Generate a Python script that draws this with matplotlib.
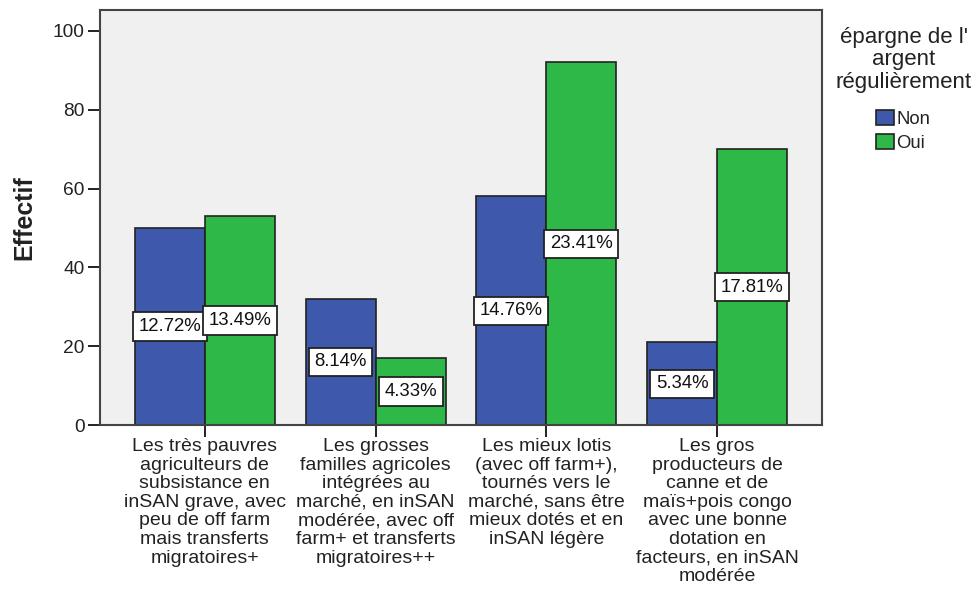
import matplotlib
matplotlib.use("Agg")
import matplotlib.pyplot as plt
from matplotlib.patches import Patch
import numpy as np

plt.rcParams['font.family'] = ['Liberation Sans', 'DejaVu Sans']

categories = [
    "Les très pauvres\nagriculteurs de\nsubsistance en\ninSAN grave, avec\npeu de off farm\nmais transferts\nmigratoires+",
    "Les grosses\nfamilles agricoles\nintégrées au\nmarché, en inSAN\nmodérée, avec off\nfarm+ et transferts\nmigratoires++",
    "Les mieux lotis\n(avec off farm+),\ntournés vers le\nmarché, sans être\nmieux dotés et en\ninSAN légère",
    "Les gros\nproducteurs de\ncanne et de\nmaïs+pois congo\navec une bonne\ndotation en\nfacteurs, en inSAN\nmodérée",
]
non_counts = [50, 32, 58, 21]
oui_counts = [53, 17, 92, 70]
non_pct = ["12.72%", "8.14%", "14.76%", "5.34%"]
oui_pct = ["13.49%", "4.33%", "23.41%", "17.81%"]
series_names = ["Non", "Oui"]
legend_title = "épargne de l'\nargent\nrégulièrement"

colors = ["#3e58ac", "#2eb848"]
ink = "#222222"

fig = plt.figure(figsize=(9.79, 5.94), dpi=100)
ax = fig.add_axes([100 / 979, 1 - 425 / 594, 722 / 979, 415 / 594])
ax.set_facecolor("#f0f0f0")

x = np.arange(len(categories))
w = 0.41
for offs, vals, pcts, col, name in [(-w / 2, non_counts, non_pct, colors[0], series_names[0]),
                                     (w / 2, oui_counts, oui_pct, colors[1], series_names[1])]:
    ax.bar(x + offs, vals, width=w, color=col, edgecolor=ink, linewidth=1.2, label=name, zorder=2)
    for xi, v, p in zip(x + offs, vals, pcts):
        ax.text(xi, v / 2, p, ha="center", va="center", fontsize=13.4, color="#111111", zorder=3,
                bbox=dict(boxstyle="square,pad=0.3", facecolor="white", edgecolor=ink, linewidth=1.3))

ax.set_xlim(-0.614, 3.614)
ax.set_ylim(0, 105.3)
ax.set_yticks([0, 20, 40, 60, 80, 100])
ax.set_xticks(x)
ax.set_xticklabels(categories, fontsize=14, linespacing=1.12, color=ink)
ax.tick_params(axis="y", labelsize=13.8, length=9, width=1.4, colors=ink, pad=2)
ax.tick_params(axis="x", length=8.5, width=1.4, colors=ink, pad=1)
for s in ax.spines.values():
    s.set_linewidth(1.5)
    s.set_color("#444444")

ax.set_ylabel("Effectif", fontsize=18, fontweight="bold", color=ink, labelpad=12)

# Legend title drawn separately so its spacing to the entries can be set freely
fig.text(904 / 979, 1 - 27 / 594, legend_title, ha="center", va="top", fontsize=16,
         linespacing=1.08, color=ink)
handles = [Patch(facecolor=c, edgecolor=ink, linewidth=1.2, label=n) for c, n in zip(colors, series_names)]
leg = fig.legend(handles=handles, loc="upper left", bbox_to_anchor=(876 / 979, 1 - 110 / 594),
                 frameon=False, fontsize=13.3, handlelength=0.95, handleheight=0.9,
                 handletextpad=0.15, labelspacing=0.3, borderpad=0.0, borderaxespad=0.0)
for t in leg.get_texts():
    t.set_color(ink)

fig.savefig("out.png", dpi=100)
